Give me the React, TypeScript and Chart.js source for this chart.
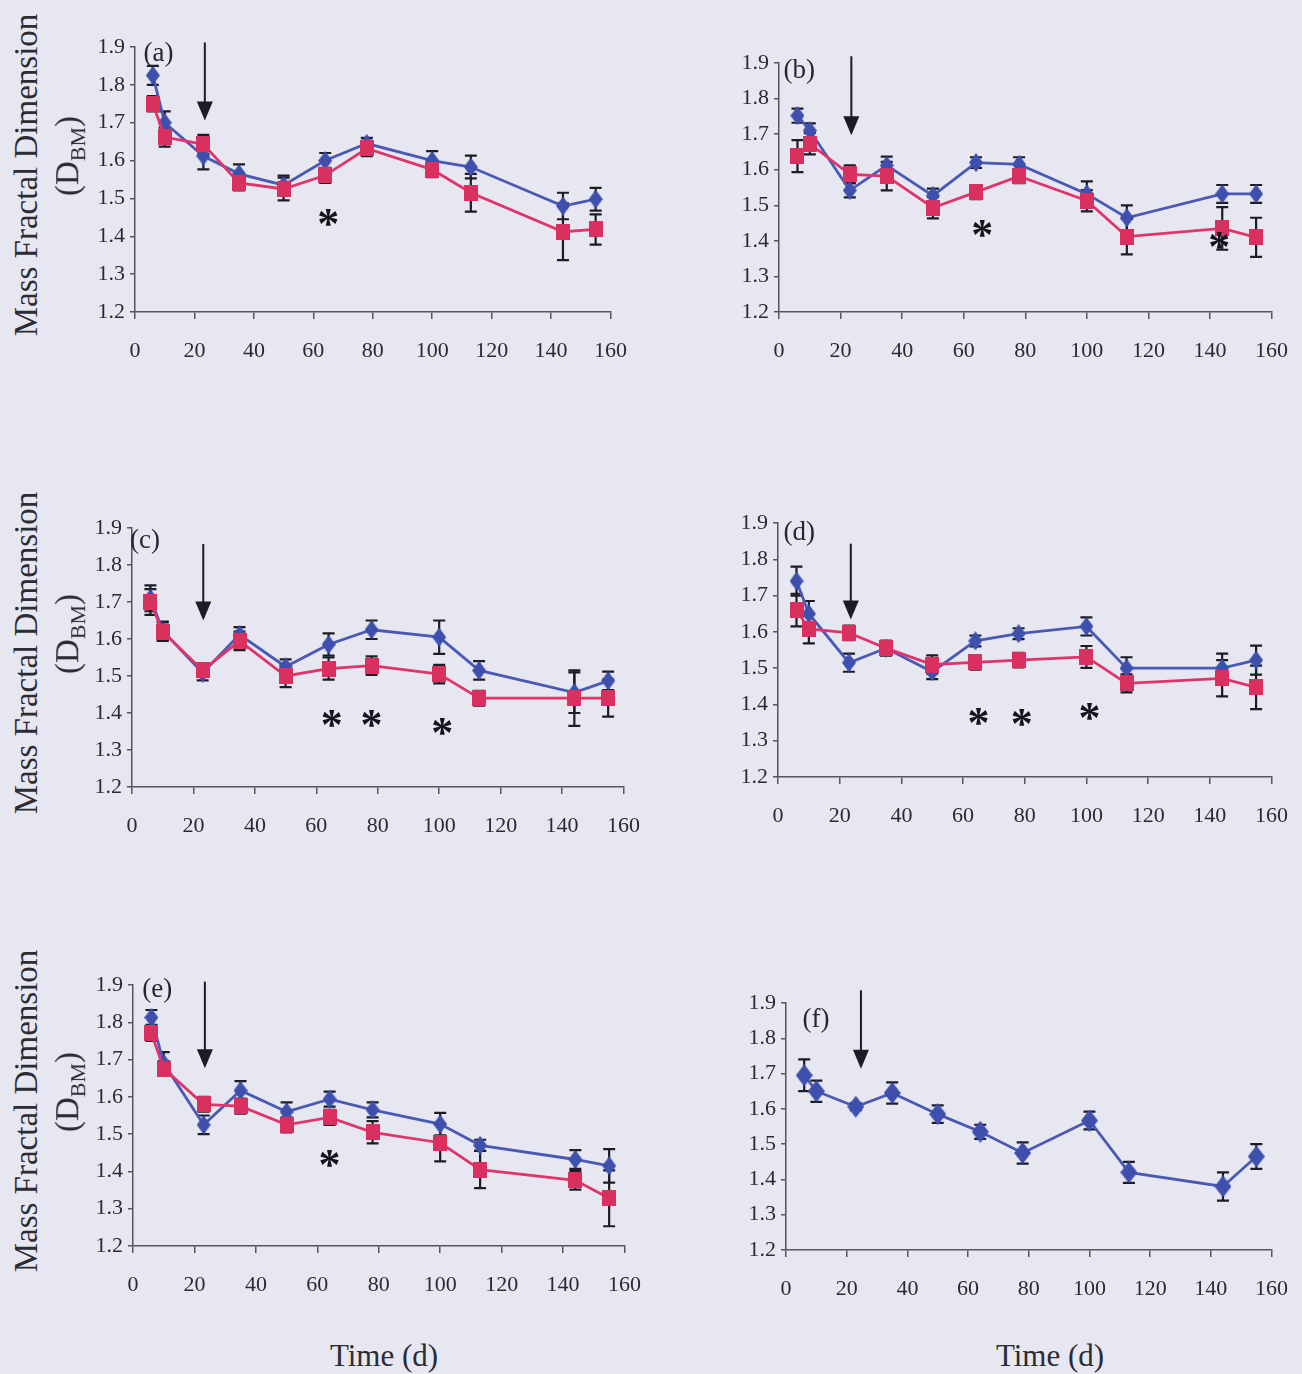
import React, { useEffect, useRef } from 'react';
import { Chart, registerables } from 'chart.js';

Chart.register(...registerables);

// ---------- data ----------
const days = [6, 10, 23, 35, 50, 64, 78, 100, 113, 144, 155];
const xTickMin = 0;
const xTickMax = 160;
const xTickStep = 20;
const yTickMin = 1.2;
const yTickMax = 1.9;
const yTickStep = 0.1;

const aBlue = [1.825, 1.70, 1.612, 1.565, 1.535, 1.60, 1.645, 1.60, 1.583, 1.48, 1.498];
const aBlueErr = [0.025, 0.03, 0.035, 0.025, 0.025, 0.02, 0.015, 0.025, 0.03, 0.035, 0.03];
const aRed = [1.75, 1.662, 1.643, 1.541, 1.525, 1.561, 1.632, 1.576, 1.515, 1.412, 1.418];
const aRedErr = [0.02, 0.025, 0.025, 0.02, 0.03, 0.02, 0.02, 0.02, 0.05, 0.075, 0.04];

const bBlue = [1.752, 1.71, 1.542, 1.612, 1.527, 1.62, 1.615, 1.532, 1.465, 1.532, 1.532];
const bBlueErr = [0.02, 0.02, 0.02, 0.025, 0.02, 0.015, 0.02, 0.035, 0.035, 0.025, 0.025];
const bRed = [1.638, 1.673, 1.587, 1.582, 1.493, 1.537, 1.582, 1.513, 1.412, 1.435, 1.41];
const bRedErr = [0.045, 0.03, 0.025, 0.04, 0.03, 0.02, 0.02, 0.03, 0.05, 0.06, 0.055];

const cBlue = [1.71, 1.622, 1.508, 1.612, 1.525, 1.585, 1.625, 1.605, 1.515, 1.455, 1.487];
const cBlueErr = [0.035, 0.025, 0.02, 0.02, 0.02, 0.03, 0.025, 0.045, 0.025, 0.055, 0.025];
const cRed = [1.70, 1.62, 1.515, 1.595, 1.50, 1.52, 1.528, 1.505, 1.44, 1.44, 1.44];
const cRedErr = [0.035, 0.025, 0.015, 0.025, 0.03, 0.03, 0.025, 0.025, 0.02, 0.075, 0.05];

const dBlue = [1.74, 1.65, 1.515, 1.555, 1.49, 1.575, 1.595, 1.615, 1.50, 1.50, 1.522];
const dBlueErr = [0.04, 0.035, 0.025, 0.02, 0.02, 0.015, 0.015, 0.025, 0.03, 0.04, 0.04];
const dRed = [1.66, 1.608, 1.597, 1.555, 1.51, 1.516, 1.522, 1.531, 1.458, 1.472, 1.447];
const dRedErr = [0.045, 0.04, 0.02, 0.02, 0.025, 0.02, 0.02, 0.03, 0.025, 0.05, 0.06];

const eBlue = [1.813, 1.69, 1.525, 1.617, 1.56, 1.594, 1.565, 1.527, 1.47, 1.432, 1.415];
const eBlueErr = [0.02, 0.03, 0.025, 0.025, 0.025, 0.02, 0.02, 0.03, 0.015, 0.025, 0.045];
const eRed = [1.77, 1.676, 1.58, 1.575, 1.525, 1.545, 1.505, 1.477, 1.405, 1.376, 1.328];
const eRedErr = [0.02, 0.02, 0.02, 0.02, 0.02, 0.02, 0.03, 0.05, 0.05, 0.025, 0.075];

const fBlue = [1.695, 1.65, 1.606, 1.645, 1.585, 1.535, 1.475, 1.567, 1.42, 1.38, 1.465];
const fBlueErr = [0.045, 0.03, 0.01, 0.03, 0.025, 0.02, 0.03, 0.025, 0.03, 0.04, 0.035];

// panel labels and annotations (data units)
const panelLabels = ['(a)', '(b)', '(c)', '(d)', '(e)', '(f)'];
const labelDays = [7.9, 6.6, 4.2, 6.9, 7.9, 9.9];
const labelVals = [1.882, 1.879, 1.864, 1.874, 1.887, 1.851];
const arrowDays = [23.5, 23.5, 23.2, 23.6, 23.4, 24.7];
const arrowTops = [1.912, 1.919, 1.857, 1.843, 1.909, 1.936];
const arrowTips = [1.706, 1.697, 1.65, 1.634, 1.677, 1.714];
const aStarDays = [65];
const aStarVals = [1.45];
const bStarDays = [66, 143];
const bStarVals = [1.436, 1.40];
const cStarDays = [65, 78, 101];
const cStarVals = [1.385, 1.385, 1.363];
const dStarDays = [65, 79, 101];
const dStarVals = [1.367, 1.365, 1.381];
const eStarDays = [64];
const eStarVals = [1.435];
const fStarDays: number[] = [];
const fStarVals: number[] = [];

const yTitle = 'Mass Fractal Dimension';
const xTitle = 'Time (d)';

// ---------- layout & style ----------
const BOXES = [
  { L: 135, R: 620, T: 47, B: 312 },
  { L: 779, R: 1281, T: 63, B: 312 },
  { L: 132, R: 633, T: 528, B: 787 },
  { L: 778, R: 1281, T: 523, B: 777 },
  { L: 133, R: 634, T: 985, B: 1246 },
  { L: 786, R: 1281, T: 1003, B: 1250 },
];
const AXW = 60;
const AXH = 60;
const PT = 22;
const PR = 26;
const BG = '#e7e7f1';
const BLUE_LINE = '#4a5ab4';
const BLUE_MARK = '#3e4fae';
const RED_LINE = '#e0346a';
const RED_MARK = '#d9305f';
const INK = '#1c1c24';
const SERIF = '"Liberation Serif", "DejaVu Serif", serif';

const PANELS = [
  { blue: aBlue, blueErr: aBlueErr, red: aRed, redErr: aRedErr, starDays: aStarDays, starVals: aStarVals },
  { blue: bBlue, blueErr: bBlueErr, red: bRed, redErr: bRedErr, starDays: bStarDays, starVals: bStarVals },
  { blue: cBlue, blueErr: cBlueErr, red: cRed, redErr: cRedErr, starDays: cStarDays, starVals: cStarVals },
  { blue: dBlue, blueErr: dBlueErr, red: dRed, redErr: dRedErr, starDays: dStarDays, starVals: dStarVals },
  { blue: eBlue, blueErr: eBlueErr, red: eRed, redErr: eRedErr, starDays: eStarDays, starVals: eStarVals },
  { blue: fBlue, blueErr: fBlueErr, red: null as number[] | null, redErr: null as number[] | null, starDays: fStarDays, starVals: fStarVals },
];

function makeDiamond(w: number, h: number, color: string) {
  const c = document.createElement('canvas');
  c.width = w;
  c.height = h;
  const ctx = c.getContext('2d')!;
  ctx.fillStyle = color;
  ctx.beginPath();
  ctx.moveTo(w / 2, 0);
  ctx.lineTo(w, h / 2);
  ctx.lineTo(w / 2, h);
  ctx.lineTo(0, h / 2);
  ctx.closePath();
  ctx.fill();
  return c;
}

function makeSquare(w: number, h: number, color: string) {
  const c = document.createElement('canvas');
  c.width = w;
  c.height = h;
  const ctx = c.getContext('2d')!;
  ctx.fillStyle = color;
  ctx.fillRect(0, 0, w, h);
  return c;
}

function PanelChart({ idx }: { idx: number }) {
  const ref = useRef<HTMLCanvasElement>(null);
  const box = BOXES[idx];
  const width = box.R - box.L + AXW + PR;
  const height = box.B - box.T + PT + AXH;

  useEffect(() => {
    const p = PANELS[idx];
    const canvas = ref.current!;
    const big = idx === 5;
    const diamond = big ? makeDiamond(17, 22, BLUE_MARK) : makeDiamond(14, 19, BLUE_MARK);
    const square = makeSquare(14, 16, RED_MARK);

    const datasets: any[] = [
      {
        label: 'blue',
        data: days.map((d, i) => ({ x: d, y: p.blue[i] })),
        errors: p.blueErr,
        borderColor: BLUE_LINE,
        backgroundColor: BLUE_MARK,
        borderWidth: 2.8,
        pointStyle: diamond,
        pointRadius: 9,
        tension: 0,
        order: 1,
      },
    ];
    if (p.red) {
      datasets.push({
        label: 'red',
        data: days.map((d, i) => ({ x: d, y: (p.red as number[])[i] })),
        errors: p.redErr,
        borderColor: RED_LINE,
        backgroundColor: RED_MARK,
        borderWidth: 2.8,
        pointStyle: square,
        pointRadius: 9,
        tension: 0,
        order: 0,
      });
    }

    const overlay = {
      id: 'overlay' + idx,
      beforeDatasetsDraw(chart: any) {
        const ctx = chart.ctx;
        const ys = chart.scales.y;
        ctx.save();
        ctx.strokeStyle = INK;
        ctx.lineWidth = 2.2;
        chart.data.datasets.forEach((ds: any, di: number) => {
          const meta = chart.getDatasetMeta(di);
          meta.data.forEach((el: any, i: number) => {
            const v = ds.data[i].y;
            const e = ds.errors[i];
            const yt = ys.getPixelForValue(v + e);
            const yb = ys.getPixelForValue(v - e);
            ctx.beginPath();
            ctx.moveTo(el.x, yt);
            ctx.lineTo(el.x, yb);
            ctx.moveTo(el.x - 6, yt);
            ctx.lineTo(el.x + 6, yt);
            ctx.moveTo(el.x - 6, yb);
            ctx.lineTo(el.x + 6, yb);
            ctx.stroke();
          });
        });
        ctx.restore();
      },
      afterDatasetsDraw(chart: any) {
        const ctx = chart.ctx;
        const xs = chart.scales.x;
        const ys = chart.scales.y;
        ctx.save();
        // arrow
        const ax = xs.getPixelForValue(arrowDays[idx]);
        const at = ys.getPixelForValue(arrowTops[idx]);
        const tip = ys.getPixelForValue(arrowTips[idx]);
        ctx.strokeStyle = INK;
        ctx.fillStyle = INK;
        ctx.lineWidth = 2;
        ctx.beginPath();
        ctx.moveTo(ax, at);
        ctx.lineTo(ax, tip - 16);
        ctx.stroke();
        ctx.beginPath();
        ctx.moveTo(ax - 8, tip - 19);
        ctx.lineTo(ax + 8, tip - 19);
        ctx.lineTo(ax, tip);
        ctx.closePath();
        ctx.fill();
        // panel label
        ctx.fillStyle = '#262630';
        ctx.font = '27px ' + SERIF;
        ctx.textAlign = 'center';
        ctx.textBaseline = 'middle';
        ctx.fillText(panelLabels[idx], xs.getPixelForValue(labelDays[idx]), ys.getPixelForValue(labelVals[idx]));
        // significance stars
        ctx.font = 'bold 44px ' + SERIF;
        ctx.fillStyle = '#15151c';
        ctx.textBaseline = 'alphabetic';
        const m = ctx.measureText('*');
        const off = (m.actualBoundingBoxAscent - m.actualBoundingBoxDescent) / 2;
        p.starDays.forEach((d: number, i: number) => {
          ctx.fillText('*', xs.getPixelForValue(d), ys.getPixelForValue(p.starVals[i]) + off);
        });
        ctx.restore();
      },
    };

    const chart = new Chart(canvas, {
      type: 'line',
      data: { datasets },
      options: {
        animation: false,
        responsive: false,
        events: [],
        layout: { padding: { top: PT, right: PR, left: 0, bottom: 0 } },
        plugins: { legend: { display: false }, tooltip: { enabled: false } },
        scales: {
          x: {
            type: 'linear',
            min: xTickMin,
            max: xTickMax,
            afterFit: (s: any) => { s.height = AXH; },
            border: { display: true, color: '#55555f', width: 1.5 },
            grid: { drawOnChartArea: false, drawTicks: true, tickLength: 7, color: '#55555f', lineWidth: 1.5 },
            ticks: {
              stepSize: xTickStep,
              autoSkip: false,
              maxRotation: 0,
              padding: 19,
              color: '#2a2a30',
              font: { family: SERIF, size: 22 },
            },
          },
          y: {
            type: 'linear',
            min: yTickMin,
            max: yTickMax,
            afterFit: (s: any) => { s.width = AXW; },
            border: { display: true, color: '#55555f', width: 1.5 },
            grid: { drawOnChartArea: false, drawTicks: true, tickLength: 5, color: '#55555f', lineWidth: 1.5 },
            ticks: {
              stepSize: yTickStep,
              padding: 5,
              color: '#2a2a30',
              font: { family: SERIF, size: 22 },
              callback: (v: any) => Number(v).toFixed(1),
            },
          },
        },
      } as any,
      plugins: [overlay],
    });
    return () => chart.destroy();
  }, [idx]);

  return (
    <canvas
      ref={ref}
      width={width}
      height={height}
      style={{ position: 'absolute', left: box.L - AXW, top: box.T - PT, width, height }}
    />
  );
}

function YTitle({ box }: { box: { L: number; R: number; T: number; B: number } }) {
  const cy = (box.T + box.B) / 2;
  const common: React.CSSProperties = {
    position: 'absolute',
    whiteSpace: 'nowrap',
    fontFamily: SERIF,
    color: '#2c2c34',
    lineHeight: 1,
    transform: 'translate(-50%, -50%) rotate(-90deg)',
  };
  return (
    <>
      <div style={{ ...common, left: 26, top: cy - 5, fontSize: 33 }}>{yTitle}</div>
      <div style={{ ...common, left: 70, top: cy - 24, fontSize: 33 }}>
        (D<sub style={{ fontSize: 22, verticalAlign: '-0.3em' }}>BM</sub>)
      </div>
    </>
  );
}

export default function App() {
  const xTitleStyle: React.CSSProperties = {
    position: 'absolute',
    whiteSpace: 'nowrap',
    fontFamily: SERIF,
    fontSize: 31,
    color: '#2c2c34',
    lineHeight: 1,
    transform: 'translate(-50%, -50%)',
    top: 1355,
  };
  return (
    <div style={{ position: 'absolute', left: 0, top: 0, width: 1302, height: 1374, background: BG, overflow: 'hidden' }}>
      {BOXES.map((_, i) => (
        <PanelChart key={i} idx={i} />
      ))}
      <YTitle box={BOXES[0]} />
      <YTitle box={BOXES[2]} />
      <YTitle box={BOXES[4]} />
      <div style={{ ...xTitleStyle, left: 384 }}>{xTitle}</div>
      <div style={{ ...xTitleStyle, left: 1050 }}>{xTitle}</div>
    </div>
  );
}
